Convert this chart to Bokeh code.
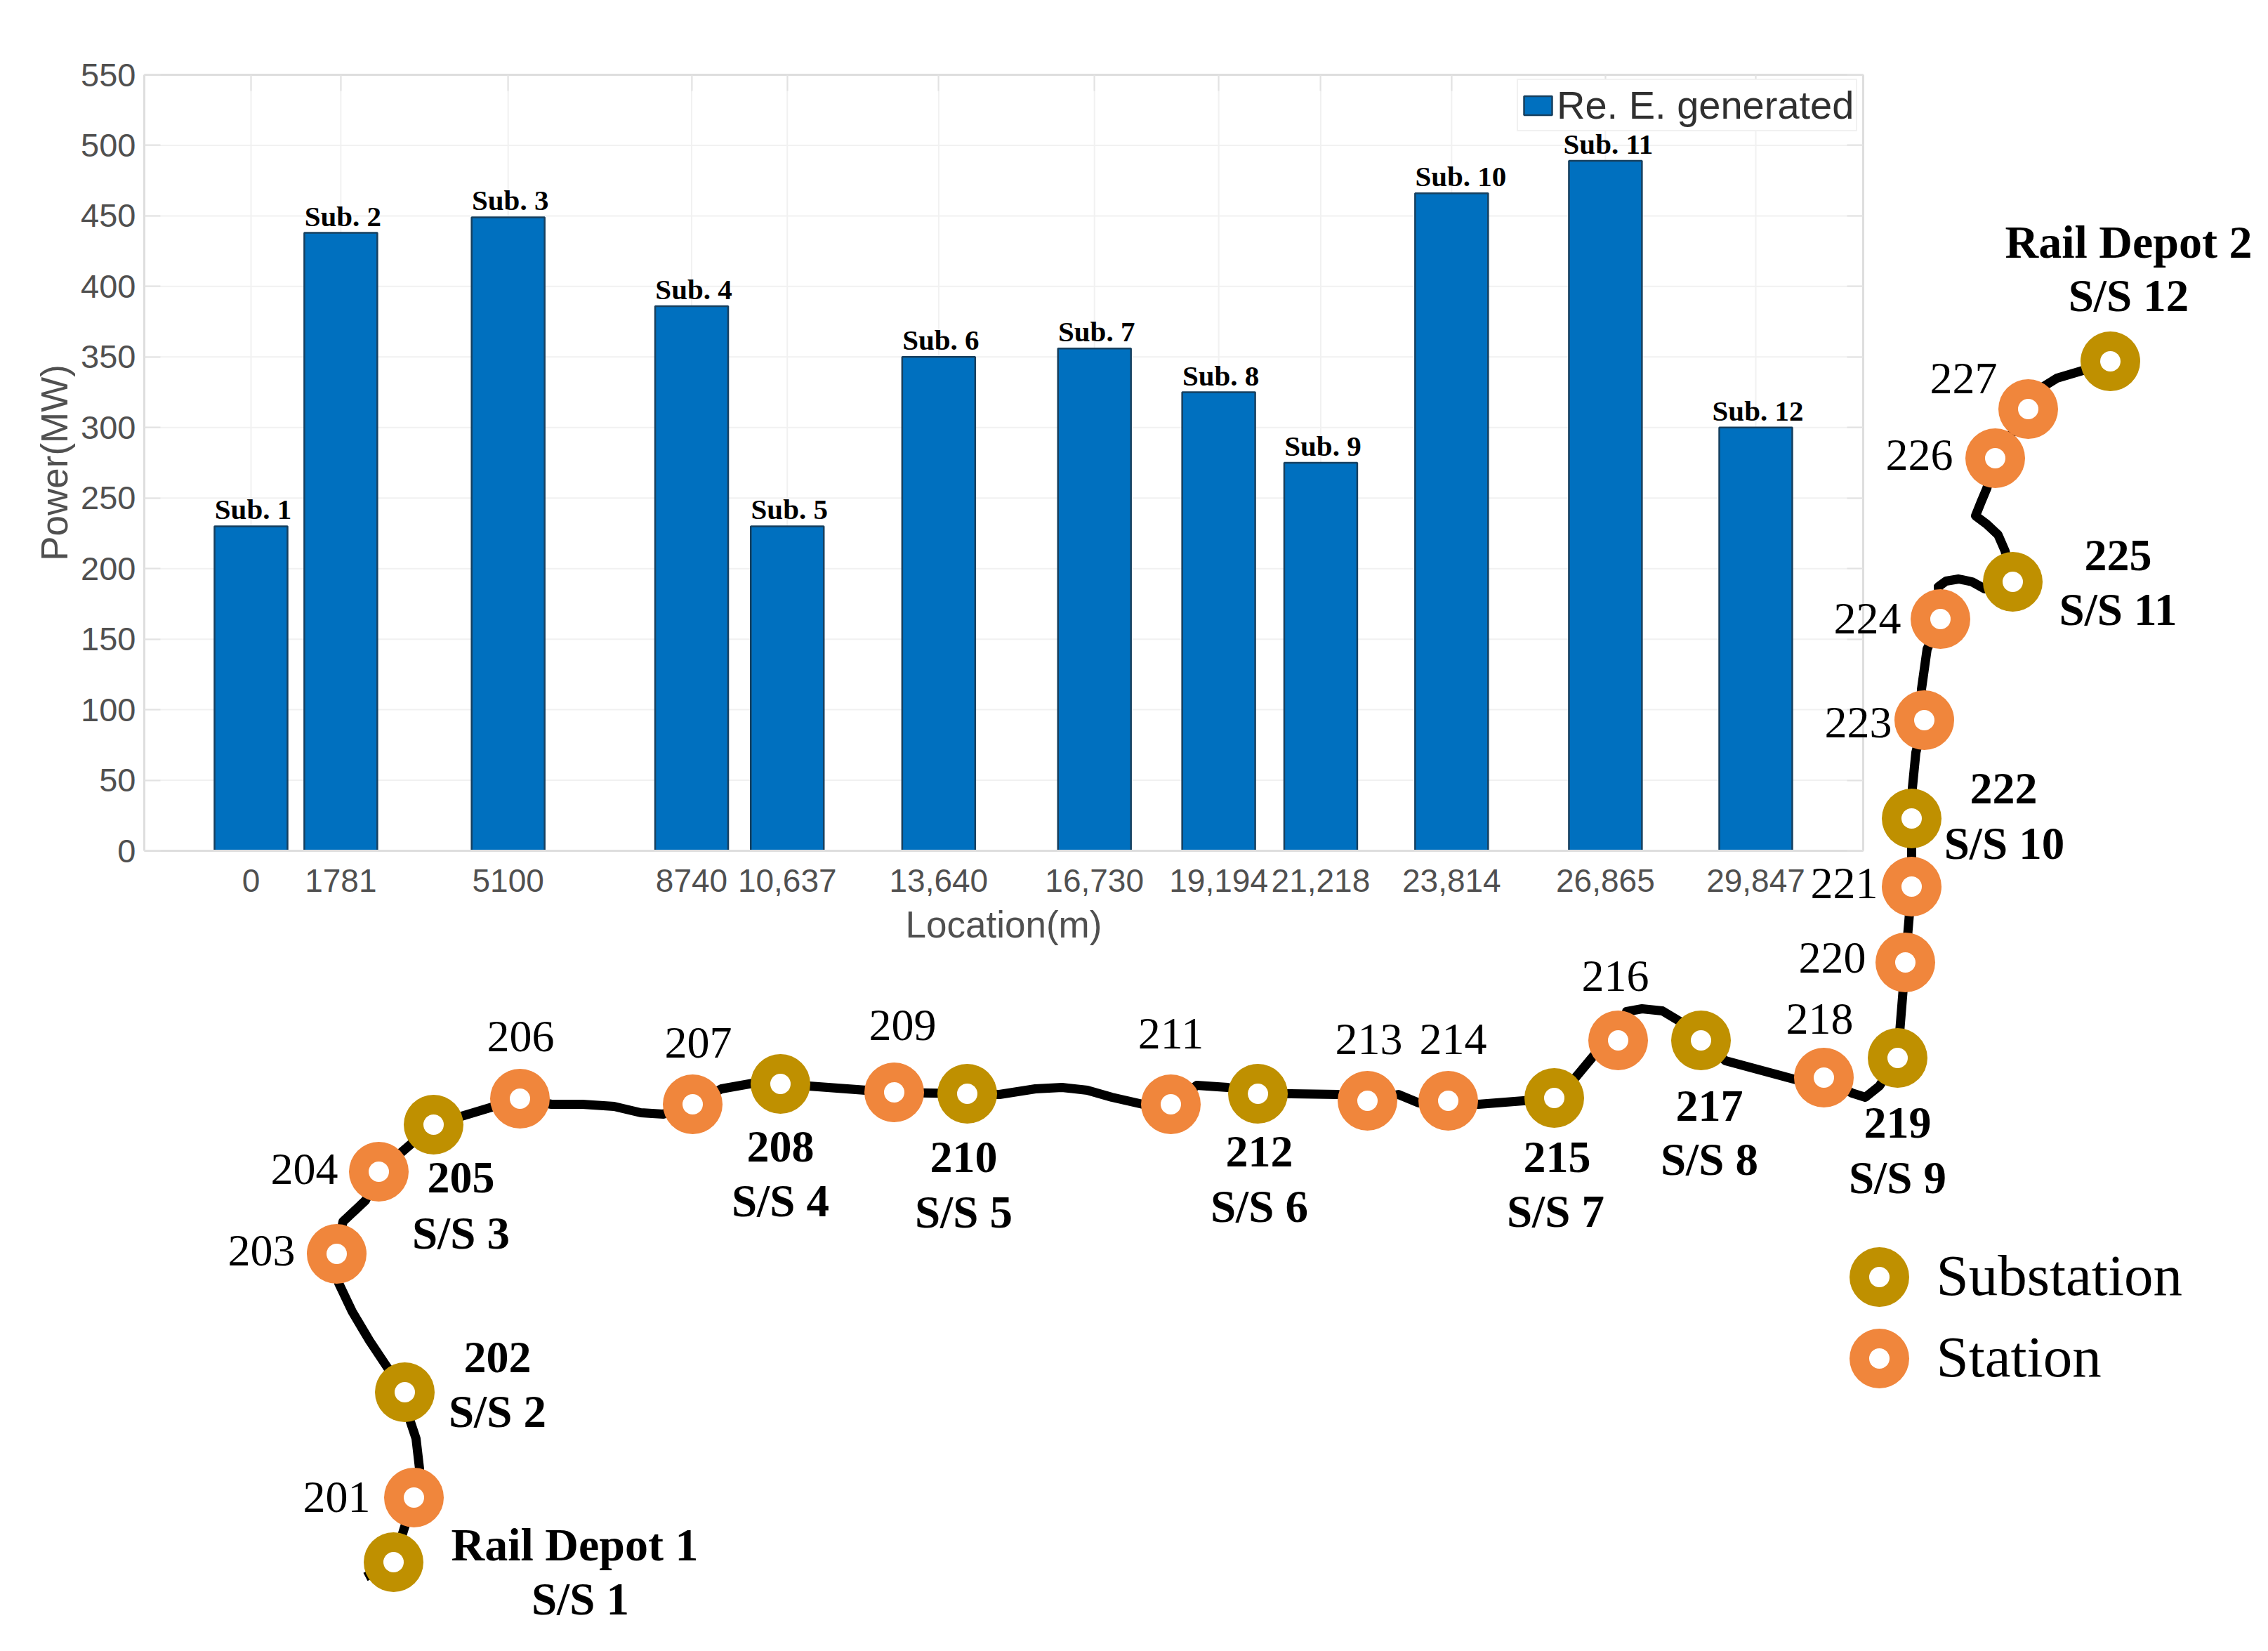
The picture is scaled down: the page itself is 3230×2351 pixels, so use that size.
from bokeh.embed import file_html
from bokeh.resources import INLINE
from bokeh.plotting import figure
from bokeh.models import Range1d, LinearAxis, FixedTicker, Legend, LegendItem
from bokeh.core.properties import value

# ---------- bar chart data ----------
locations = [0, 1781, 5100, 8740, 10637, 13640, 16730, 19194, 21218, 23814, 26865, 29847]
location_labels = ["0", "1781", "5100", "8740", "10,637", "13,640", "16,730", "19,194",
                   "21,218", "23,814", "26,865", "29,847"]
power_mw = [230, 438, 449, 386, 230, 350, 356, 325, 275, 466, 489, 300]
sub_labels = ["Sub. 1", "Sub. 2", "Sub. 3", "Sub. 4", "Sub. 5", "Sub. 6", "Sub. 7", "Sub. 8",
              "Sub. 9", "Sub. 10", "Sub. 11", "Sub. 12"]
sub_label_dx = [3, 3, 3, 3, 3, 3, 3, 3, 3, 13, 4, 3]
power_ticks = list(range(0, 551, 50))

# ---------- route map data (map coordinates) ----------
route_x = [520, 560, 589, 597, 592, 584, 576, 552, 526, 501, 482, 479, 488, 520, 539, 617, 740,
           785, 829, 874, 912, 944, 986, 1027, 1072, 1111, 1273, 1377, 1423, 1474, 1512, 1548, 1583,
           1627, 1667, 1704, 1748, 1791, 1838, 1905, 1947, 1991, 2020, 2062, 2105, 2169, 2213,
           2244, 2269, 2304, 2316, 2338, 2367, 2392, 2422, 2457, 2561, 2597, 2637, 2656, 2676, 2702,
           2713, 2722, 2722, 2723, 2728, 2740, 2736, 2744, 2763, 2760, 2771, 2789, 2808, 2826, 2866,
           2855, 2845, 2829, 2813, 2821, 2829, 2841, 2888, 2908, 2929, 2966, 3005]
route_y = [2245, 2224, 2132, 2091, 2048, 2024, 1982, 1948, 1909, 1867, 1827, 1785, 1739, 1709, 1668,
           1601, 1564, 1572, 1572, 1575, 1584, 1586, 1572, 1550, 1542, 1543, 1555, 1557, 1558, 1550,
           1548, 1552, 1562, 1572, 1572, 1545, 1548, 1557, 1557, 1558, 1567, 1558, 1570, 1567, 1572,
           1567, 1563, 1533, 1503, 1481, 1440, 1436, 1439, 1454, 1481, 1510, 1538, 1534, 1556, 1562,
           1546, 1506, 1370, 1264, 1165, 1122, 1071, 1025, 981, 924, 881, 835, 827, 824, 828, 838,
           828, 784, 761, 746, 734, 714, 695, 652, 582, 551, 538, 527, 514]

sub_x = [560, 576, 617, 1111, 1377, 1791, 2213, 2422, 2702, 2722, 2866, 3005]
sub_y = [2224, 1982, 1601, 1543, 1557, 1557, 1563, 1481, 1506, 1165, 828, 514]
stn_x = [589, 479, 539, 740, 986, 1273, 1667, 1947, 2062, 2304, 2597, 2713, 2722, 2740, 2763, 2841, 2888]
stn_y = [2132, 1785, 1668, 1564, 1572, 1555, 1572, 1567, 1567, 1481, 1534, 1370, 1262, 1025, 881, 652, 582]

stn_text = ["201", "203", "204", "206", "207", "209", "211", "213", "214", "216", "218", "220",
            "221", "223", "224", "226", "227"]
stn_text_x = [479, 372, 433, 741, 994, 1285, 1667, 1949, 2069, 2300, 2591, 2609, 2626, 2646, 2659, 2733, 2796]
stn_text_y = [2134, 1783, 1667, 1478, 1487, 1462, 1474, 1482, 1482, 1392, 1453, 1366, 1260, 1031, 883, 650, 541]

sub_id_text = ["202", "205", "208", "210", "212", "215", "217", "219", "222", "225"]
sub_id_x = [708, 656, 1111, 1372, 1793, 2217, 2434, 2702, 2853, 3016]
sub_id_y = [1935, 1679, 1635, 1650, 1642, 1650, 1577, 1601, 1125, 793]

ss_text = ["S/S 2", "S/S 3", "S/S 4", "S/S 5", "S/S 6", "S/S 7", "S/S 8", "S/S 9", "S/S 10", "S/S 11",
           "S/S 12", "S/S 1"]
ss_x = [708, 656, 1111, 1372, 1793, 2215, 2434, 2702, 2854, 3016, 3031, 826]
ss_y = [2012, 1758, 1712, 1728, 1720, 1727, 1653, 1679, 1203, 870, 423, 2279]

depot_text = ["Rail Depot 1", "Rail Depot 2"]
depot_x = [818, 3031]
depot_y = [2202, 347]

key_text = ["Substation", "Station"]
key_x = [2676, 2676]
key_y = [1818, 1934]
key_text_x = [2757, 2757]

# ---------- layout constants ----------
W, H = 3214, 2335
PX0, PX1, PY0, PY1 = 0, W, 0, H
BAR_L, BAR_R, BAR_T, BAR_B = 205, 2653, 106, 1211
PX_PER_M = (2500 - 357) / 29847
X_ZERO_PX = 357
PX_PER_MW = (BAR_B - BAR_T) / 550


def px2m(px):
    return (px - X_ZERO_PX) / PX_PER_M


def py2mw(py):
    return (BAR_B - py) / PX_PER_MW


M_L, M_R = px2m(BAR_L), px2m(BAR_R)
FONT_SANS = "Liberation Sans"
FONT_SERIF = "Liberation Serif"
GREY = "#505050"
FRAME = "#dedede"

p = figure(width=W, height=H, output_backend="svg", toolbar_location=None,
           x_range=Range1d(PX0, PX1), y_range=Range1d(PY1, PY0),
           x_axis_location=None, y_axis_location=None, min_border=0,
           outline_line_color=None, background_fill_color="white")
p.grid.visible = False
p.extra_x_ranges = {"m": Range1d(px2m(PX0), px2m(PX1))}
p.extra_y_ranges = {"mw": Range1d(py2mw(PY1), py2mw(PY0))}

# grid
p.segment(x0=locations, x1=locations, y0=[0] * len(locations), y1=[550] * len(locations),
          x_range_name="m", y_range_name="mw", line_color="#f1f1f1", line_width=2, level="underlay")
p.segment(x0=[M_L] * len(power_ticks), x1=[M_R] * len(power_ticks), y0=power_ticks, y1=power_ticks,
          x_range_name="m", y_range_name="mw", line_color="#f1f1f1", line_width=2, level="underlay")

# bars
bars = p.vbar(x=locations, top=power_mw, bottom=0, width=1448, x_range_name="m", y_range_name="mw",
              fill_color="#0070BF", line_color="#17405f", line_width=2.5)
p.text(x=locations, y=power_mw, text=sub_labels, x_range_name="m", y_range_name="mw",
       text_font=value(FONT_SERIF), text_font_style="bold", text_font_size=value("41px"),
       text_align="center", text_baseline="middle", x_offset=sub_label_dx, y_offset=-24,
       text_color="black")


def style_axis(ax):
    ax.axis_line_color = FRAME
    ax.axis_line_width = 3
    ax.major_tick_line_color = "#e2e2e2"
    ax.major_tick_line_width = 2
    ax.major_tick_out = 0
    ax.major_tick_in = 23
    ax.minor_tick_in = 0
    ax.minor_tick_out = 0
    ax.major_label_text_font = FONT_SANS
    ax.major_label_text_font_size = "46px"
    ax.major_label_text_color = GREY
    ax.axis_label_text_font = FONT_SANS
    ax.axis_label_text_font_style = "normal"
    ax.axis_label_text_font_size = "53px"
    ax.axis_label_text_color = GREY


yticks = FixedTicker(ticks=power_ticks)
xticks = FixedTicker(ticks=locations)
overrides = {loc: lab for loc, lab in zip(locations, location_labels)}

left = LinearAxis(x_range_name="m", y_range_name="mw", fixed_location=M_L, bounds=(0, 550),
                  ticker=yticks, axis_label="Power(MW)")
style_axis(left)
left.major_label_text_font_size = "47px"
left.major_label_standoff = 12
left.axis_label_standoff = 5
p.add_layout(left, "left")

right = LinearAxis(x_range_name="m", y_range_name="mw", fixed_location=M_R, bounds=(0, 550), ticker=yticks)
style_axis(right)
right.major_label_text_color = None
p.add_layout(right, "right")

bottom = LinearAxis(x_range_name="m", y_range_name="mw", fixed_location=0, bounds=(M_L, M_R),
                    ticker=xticks, axis_label="Location(m)", major_label_overrides=overrides)
style_axis(bottom)
bottom.major_tick_in = 0
bottom.major_label_standoff = 26
bottom.axis_label_standoff = 14
p.add_layout(bottom, "below")

top = LinearAxis(x_range_name="m", y_range_name="mw", fixed_location=550, bounds=(M_L, M_R), ticker=xticks)
style_axis(top)
top.major_label_text_color = None
p.add_layout(top, "above")

# bar legend
legend = Legend(items=[LegendItem(label="Re. E. generated", renderers=[bars])],
                location=(2160 - PX0, PY1 - 187), margin=0, padding=3, spacing=0,
                glyph_width=50, glyph_height=34, label_standoff=2, label_height=60,
                label_text_font=FONT_SANS, label_text_font_size="56px", label_text_color="#303030",
                border_line_color="#e4e4e4", border_line_width=2, background_fill_alpha=1)
p.add_layout(legend, "center")

# route
p.line(route_x, route_y, line_color="black", line_width=13, line_join="round", level="overlay")
OR, RD = 85, 29
p.scatter(sub_x, sub_y, size=OR, marker="circle", fill_color="#BF9000", line_color=None, level="overlay")
p.scatter(stn_x, stn_y, size=OR, marker="circle", fill_color="#F0863C", line_color=None, level="overlay")
p.scatter(sub_x + stn_x, sub_y + stn_y, size=RD, marker="circle", fill_color="white", line_color=None, level="overlay")
p.scatter(key_x[:1], key_y[:1], size=OR, marker="circle", fill_color="#BF9000", line_color=None, level="overlay")
p.scatter(key_x[1:], key_y[1:], size=OR, marker="circle", fill_color="#F0863C", line_color=None, level="overlay")
p.scatter(key_x, key_y, size=RD, marker="circle", fill_color="white", line_color=None, level="overlay")


def labels(xs, ys, texts, size, style="normal", align="center"):
    p.text(x=xs, y=ys, text=texts, text_font=value(FONT_SERIF), text_font_style=style,
           text_font_size=value(size), text_align=align, text_baseline="middle", y_offset=-3,
           text_color="black", level="overlay")


labels(stn_text_x, stn_text_y, stn_text, "64px")
labels(sub_id_x, sub_id_y, sub_id_text, "64px", "bold")
labels(ss_x, ss_y, ss_text, "65px", "bold")
labels(depot_x, depot_y, depot_text, "66px", "bold")
labels(key_text_x, key_y, key_text, "83px", align="left")

open("out.html", "w").write(file_html(p, INLINE))
